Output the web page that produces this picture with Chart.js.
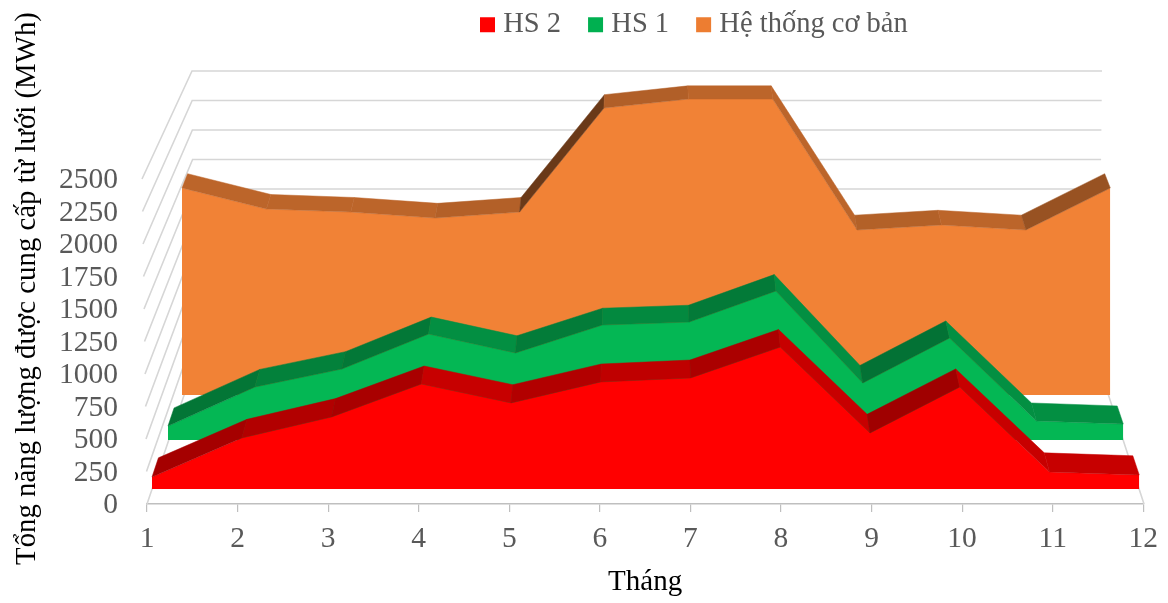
<!DOCTYPE html>
<html>
<head>
<meta charset="utf-8">
<style>html,body{margin:0;padding:0;background:#fff}canvas{display:block}</style>
<script src="https://cdn.jsdelivr.net/npm/chart.js@4/dist/chart.umd.js"></script>
</head>
<body>
<canvas id="c" width="1168" height="603"></canvas>
<script>
const months = [1,2,3,4,5,6,7,8,9,10,11,12];
const seriesNames = ['HS 2','HS 1','Hệ thống cơ bản'];
const hs2Values  = [93,396,559,815,668,831,862,1102,435,792,132,109];
const hs1Values  = [112,425,569,850,698,922,946,1195,457,818,152,128];
const baseValues = [1711,1537,1512,1463,1512,2372,2446,2446,1364,1405,1364,1711];
const legendColors = ['#FF0000','#00B050','#ED7D31'];
const faceColors = ['#FF0000','#04B754','#F18236'];

// Layout of the perspective view (pixels)
const AREA = {left:147,right:1144,top:73,bottom:504};
const Y_UNIT = 32.5/250;
const VP = {x:647,y:-1000};
const planes = [
  {left:152,right:1140,base:489,ppu:0.1288,depth:0.0130},
  {left:168,right:1124,base:440,ppu:0.1247,depth:0.0127},
  {left:182,right:1111,base:395,ppu:0.1210,depth:0.0120}
];
const FONT = 'Liberation Serif';

function planeXAxis(p){
  const step=(p.right-p.left)/11;
  return {type:'linear',display:false,min:1+(AREA.left-p.left)/step,max:1+(AREA.right-p.left)/step};
}
function planeYAxis(p){
  return {type:'linear',display:false,min:(p.base-AREA.bottom)/p.ppu,max:(p.base-AREA.top)/p.ppu};
}
function shade(hex,f){
  const n=parseInt(hex.slice(1),16);
  return 'rgb('+[(n>>16)&255,(n>>8)&255,n&255].map(c=>Math.round(c*f)).join(',')+')';
}
function slopeFactor(s){ return s>0 ? Math.max(0.42,0.76-0.26*s) : 0.78; }

const walls = {
  id:'walls',
  beforeDatasetsDraw(chart){
    const ctx=chart.ctx, y=chart.scales.y;
    ctx.save();
    ctx.strokeStyle='#d6d6d6'; ctx.lineWidth=1.6;
    for(const t of y.ticks){
      if(t.value>2500) continue;
      const r=t.value/2500;
      const fy=y.getPixelForValue(t.value), fx=AREA.left-5*r;
      const by=71+(1-r)*295, lx=192+2*(1-r), rx=1102-3*(1-r);
      ctx.beginPath(); ctx.moveTo(fx,fy); ctx.lineTo(lx,by); ctx.lineTo(rx,by);
      if(t.value===0) ctx.lineTo(AREA.right,fy);
      ctx.stroke();
    }
    ctx.restore();
  }
};
const strips = {
  id:'strips',
  beforeDatasetDraw(chart,args){
    const pts=args.meta.data, k=planes[args.index].depth, col=faceColors[args.index], ctx=chart.ctx;
    const back=p=>({x:p.x+(VP.x-p.x)*k,y:p.y+(VP.y-p.y)*k});
    ctx.save();
    for(let i=0;i<pts.length-1;i++){
      const a=pts[i],b=pts[i+1],ba=back(a),bb=back(b);
      const c=shade(col,slopeFactor((a.y-b.y)/(b.x-a.x)));
      ctx.fillStyle=c; ctx.strokeStyle=c; ctx.lineWidth=0.5;
      ctx.beginPath(); ctx.moveTo(a.x,a.y); ctx.lineTo(b.x,b.y); ctx.lineTo(bb.x,bb.y); ctx.lineTo(ba.x,ba.y); ctx.closePath();
      ctx.fill(); ctx.stroke();
    }
    ctx.restore();
  }
};
const legendPlace = {
  id:'legendPlace',
  beforeLayout(chart){
    const lg=chart.legend;
    if(lg && !lg._fitFixed){
      const fit=lg.fit;
      lg.fit=function(){ fit.call(this); this.height=AREA.top; };
      lg._fitFixed=true;
    }
  },
  afterLayout(chart){ chart.legend.left=453; chart.legend.top=-22.5; }
};

const allSeries=[hs2Values,hs1Values,baseValues];
const scales={
  x:{type:'linear',position:'bottom',min:1,max:12,
     afterFit(s){s.height=603-AREA.bottom;},
     grid:{drawOnChartArea:false,drawTicks:true,tickLength:8,color:'#bfbfbf',lineWidth:1.2},
     border:{color:'#bfbfbf',width:1.6},
     ticks:{stepSize:1,autoSkip:false,maxRotation:0,padding:10,color:'#595959',font:{family:FONT,size:29.5}},
     title:{display:true,text:'Tháng',color:'#000',font:{family:FONT,size:29},padding:{top:0,bottom:3}}},
  y:{type:'linear',position:'left',min:0,max:(AREA.bottom-AREA.top)/Y_UNIT,
     afterFit(s){s.width=AREA.left;},
     grid:{display:false},border:{display:false},
     ticks:{stepSize:250,autoSkip:false,includeBounds:false,padding:21,labelOffset:1.5,color:'#595959',font:{family:FONT,size:29.5},
            callback:v=>v>2500?null:v},
     title:{display:true,text:'Tổng năng lượng được cung cấp từ lưới (MWh)',color:'#000',font:{family:FONT,size:28.8},padding:{top:10,bottom:0}}}
};
planes.forEach((p,i)=>{scales['x'+i]=planeXAxis(p);scales['y'+i]=planeYAxis(p);});

new Chart(document.getElementById('c'),{
  type:'line',
  data:{datasets:allSeries.map((vals,i)=>({
    label:seriesNames[i],
    data:months.map((m,j)=>({x:m,y:vals[j]})),
    xAxisID:'x'+i,yAxisID:'y'+i,
    backgroundColor:legendColors[i],
    borderWidth:0,pointRadius:0,pointHoverRadius:0,tension:0,clip:false,
    fill:{target:'origin',above:faceColors[i],below:faceColors[i]}
  }))},
  options:{
    responsive:false,animation:false,
    layout:{padding:{top:0,left:0,right:1168-AREA.right,bottom:0}},
    plugins:{
      tooltip:{enabled:false},
      legend:{display:true,position:'top',align:'start',
        labels:{usePointStyle:true,pointStyle:'rect',boxWidth:3,boxHeight:15,padding:33,color:'#595959',
                font:{family:FONT,size:28.5}}}
    },
    scales
  },
  plugins:[walls,strips,legendPlace]
});
</script>
</body>
</html>
